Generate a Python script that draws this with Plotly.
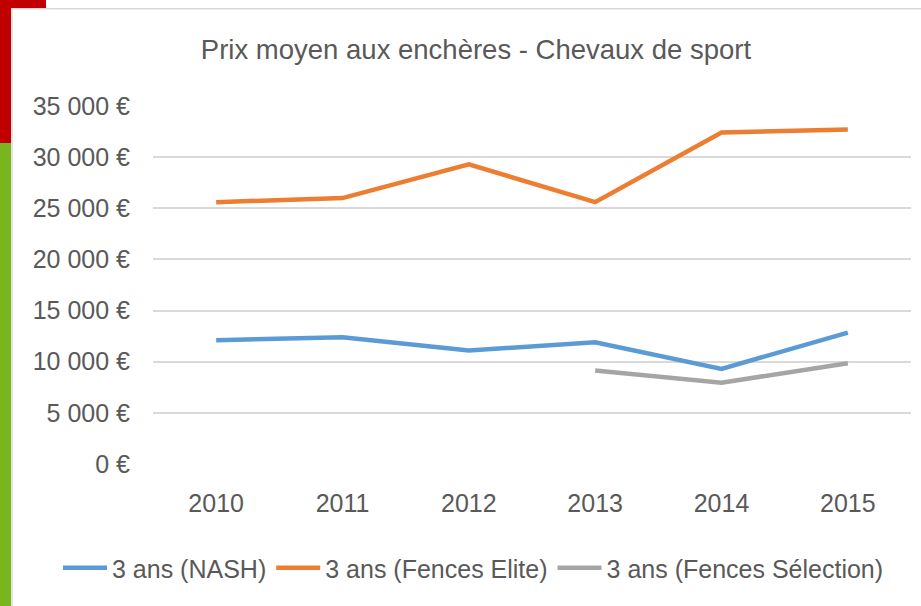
import plotly.graph_objects as go

years = ["2010", "2011", "2012", "2013", "2014", "2015"]
nash = [12100, 12400, 11100, 11900, 9300, 12850]
fences_elite = [25600, 26000, 29300, 25600, 32400, 32700]
fences_selection = [None, None, None, 9150, 7950, 9850]
series_names = ["3 ans (NASH)", "3 ans (Fences Elite)", "3 ans (Fences Sélection)"]
y_tickvals = [0, 5000, 10000, 15000, 20000, 25000, 30000, 35000]
y_ticktext = ["0 €", "5 000 €", "10 000 €", "15 000 €", "20 000 €", "25 000 €", "30 000 €", "35 000 €"]

W, H = 921, 606
L, R, T, B = 153, 10, 106, 142
pw, ph = W - L - R, H - T - B

def px(x):
    return (x - L) / pw

def py(y):
    return (H - B - y) / ph

FONT = "Liberation Sans, Arial, sans-serif"
TXT = "#595959"

fig = go.Figure()
colors = ["#5B9BD5", "#ED7D31", "#A5A5A5"]
for name, vals, c in zip(series_names, [nash, fences_elite, fences_selection], colors):
    fig.add_trace(go.Scatter(x=years, y=vals, mode="lines", name=name,
                             line=dict(color=c, width=4.5), connectgaps=False))

shapes = [
    dict(type="rect", xref="paper", yref="paper", x0=px(0), x1=px(11), y0=py(143), y1=py(0),
         fillcolor="#C00000", line=dict(width=0), layer="above"),
    dict(type="rect", xref="paper", yref="paper", x0=px(0), x1=px(46), y0=py(8), y1=py(0),
         fillcolor="#C00000", line=dict(width=0), layer="above"),
    dict(type="rect", xref="paper", yref="paper", x0=px(0), x1=px(11), y0=py(606), y1=py(143),
         fillcolor="#78B51E", line=dict(width=0), layer="above"),
    dict(type="line", xref="paper", yref="paper", x0=px(12), x1=px(12), y0=py(606), y1=py(8.5),
         line=dict(color="#D9D9D9", width=1.5)),
    dict(type="line", xref="paper", yref="paper", x0=px(11), x1=px(921), y0=py(8.7), y1=py(8.7),
         line=dict(color="#D9D9D9", width=1.5)),
]

fig.update_layout(
    width=W, height=H,
    margin=dict(l=L, r=R, t=T, b=B),
    paper_bgcolor="white", plot_bgcolor="white",
    font=dict(family=FONT, size=25, color=TXT),
    title=dict(text="Prix moyen aux enchères - Chevaux de sport", x=476 / W, xref="container",
               xanchor="center", y=1 - 49 / H, yref="container", yanchor="middle",
               font=dict(size=27.5, color=TXT, family=FONT)),
    showlegend=True,
    legend=dict(orientation="h", xref="paper", x=px(58), xanchor="left",
                yref="paper", y=py(568), yanchor="middle",
                font=dict(size=25, color=TXT, family=FONT), bgcolor="rgba(0,0,0,0)",
                itemwidth=44, tracegroupgap=0),
    shapes=shapes,
)
fig.update_xaxes(type="category", range=[-0.5, 5.5], showgrid=False, zeroline=False,
                 showline=False, ticks="", tickfont=dict(size=25, color=TXT),
                 ticklabelstandoff=22)
fig.update_yaxes(range=[0, 35000], tickvals=y_tickvals, ticktext=y_ticktext,
                 showgrid=True, gridcolor="#D9D9D9", gridwidth=1.5, zeroline=False,
                 showline=False, ticks="", tickfont=dict(size=25, color=TXT),
                 ticklabelstandoff=22)

fig.write_html("out.html", config={"displayModeBar": False},
               post_script="document.body.style.margin='0';document.body.style.overflow='hidden';")
